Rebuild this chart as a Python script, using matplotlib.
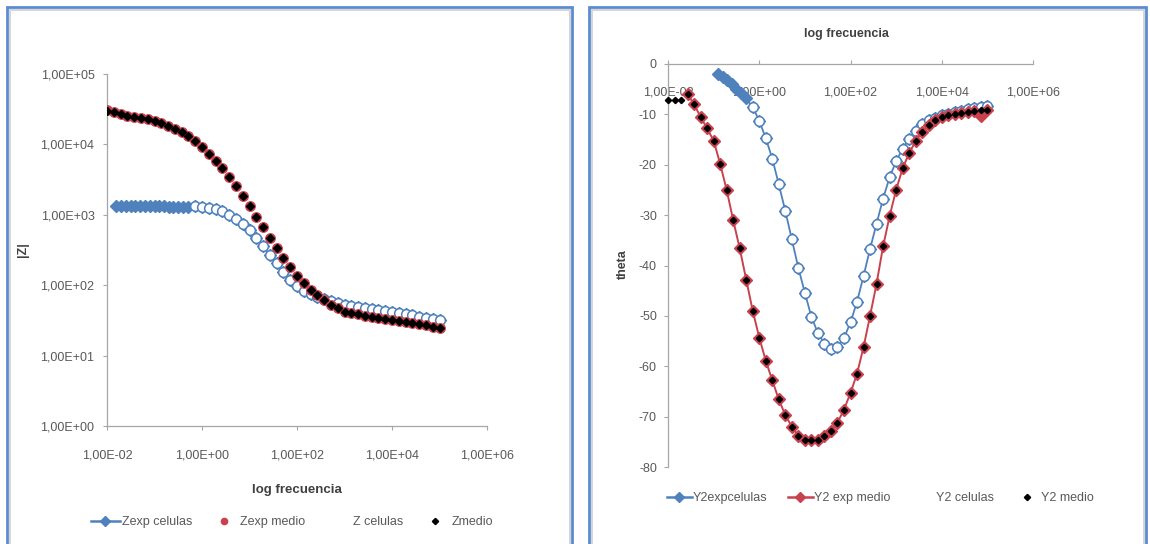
import matplotlib
matplotlib.use("Agg")
import matplotlib.pyplot as plt
from matplotlib.lines import Line2D
from matplotlib.patches import Rectangle
from matplotlib.ticker import FixedLocator, FuncFormatter, NullLocator

plt.rcParams["font.family"] = ["Liberation Sans", "DejaVu Sans"]
plt.rcParams["axes.unicode_minus"] = False

# shared frequency grid (Hz), 7 points per decade
freq = [0.01, 0.01389, 0.01931, 0.02683, 0.03728, 0.05179, 0.07197,
        0.1, 0.1389, 0.1931, 0.2683, 0.3728, 0.5179, 0.7197,
        1, 1.389, 1.931, 2.683, 3.728, 5.179, 7.197,
        10, 13.89, 19.31, 26.83, 37.28, 51.79, 71.97,
        100, 138.9, 193.1, 268.3, 372.8, 517.9, 719.7,
        1000, 1389, 1931, 2683, 3728, 5179, 7197,
        10000, 13890, 19310, 26830, 37280, 51790, 71970, 100000]

# |Z| - medium
z_medio = [29900, 28840, 26900, 25700, 24550, 23710, 22900, 21630, 19950, 18410,
           16600, 14790, 13030, 11120, 9120, 7410, 5890, 4570, 3430, 2570,
           1860, 1349, 944, 661, 468, 339, 245, 184, 135, 106,
           85.1, 72.4, 61.7, 52.5, 46.8, 42.2, 39.8, 38.5, 36.7, 35.5,
           34.3, 33.1, 32.0, 30.9, 29.9, 28.8, 27.9, 26.9, 25.7, 24.5]
z_exp_medio = [30500, 28840, 26900, 25700, 24550, 23710, 22900, 21630, 19950, 18410,
               16600, 14790, 13030, 11120, 9120, 7410, 5890, 4570, 3430, 2570,
               1860, 1349, 944, 661, 468, 339, 245, 184, 135, 106,
               85.1, 72.4, 61.7, 52.5, 46.8, 42.2, 39.8, 38.5, 36.7, 35.5,
               34.3, 33.1, 32.0, 30.9, 29.9, 28.8, 27.9, 26.9, 25.7, 24.5]

# |Z| - cells: model from freq[13:], measurement at low frequency
z_celulas = [1318, 1303, 1259, 1202, 1122, 1000, 871, 741, 603, 468,
             355, 269, 204, 155, 120, 97.7, 83.2, 74.1, 67.6, 63.1,
             59.6, 55.6, 52.5, 50.7, 49.0, 47.3, 45.7, 44.2, 42.7, 41.2,
             39.8, 38.5, 37.2, 35.9, 34.7, 33.5, 32.4]
z_exp_cel_freq = [0.0158, 0.02, 0.0251, 0.0316, 0.0398, 0.0501, 0.0631, 0.0794,
                  0.1, 0.126, 0.158, 0.2, 0.251, 0.316, 0.398, 0.501]
z_exp_cel = [1330, 1325, 1325, 1320, 1320, 1320, 1318, 1318,
             1315, 1315, 1312, 1310, 1305, 1300, 1295, 1290]

# phase angle - medium (measurement starts at freq[3])
y2_medio = [-7.2, -7.2, -7.2,
            -6.0, -8.0, -10.5, -12.8, -15.2, -19.8, -25.0, -31.0, -36.6, -42.8,
            -49.0, -54.3, -58.9, -62.8, -66.6, -69.7, -72.0, -73.8, -74.6, -74.7,
            -74.6, -73.9, -72.8, -71.2, -68.6, -65.3, -61.5, -56.2, -50.0, -43.6,
            -36.2, -30.2, -25.0, -20.7, -17.7, -15.3, -13.4, -12.1, -11.2, -10.6,
            -10.2, -9.9, -9.7, -9.5, -9.3, -9.1, -9.2]
y2_exp_medio = [-6.0, -8.0, -10.5, -12.8, -15.2, -19.8, -25.0, -31.0, -36.6, -42.8,
                -49.0, -54.3, -58.9, -62.8, -66.6, -69.7, -72.0, -73.8, -74.6, -74.7,
                -74.6, -73.9, -72.8, -71.2, -68.6, -65.3, -61.5, -56.2, -50.0, -43.6,
                -36.2, -30.2, -25.0, -20.7, -17.7, -15.3, -13.4, -12.1, -11.2, -10.6,
                -10.2, -9.9, -9.7, -9.5, -9.3, -10.3, -9.2]

# phase angle - cells: model from freq[13:], measurement at low frequency
y2_celulas = [-8.5, -11.3, -14.7, -18.8, -23.9, -29.2, -34.8, -40.5, -45.4, -50.2,
              -53.4, -55.5, -56.5, -56.1, -54.4, -51.3, -47.2, -42.1, -36.7, -31.7,
              -26.7, -22.5, -19.3, -16.8, -14.9, -13.3, -11.9, -11.2, -10.7, -10.2,
              -9.9, -9.6, -9.3, -9.0, -8.8, -8.5, -8.3]
y2_exp_cel_freq = [0.126, 0.158, 0.2, 0.251, 0.316, 0.398, 0.501]
y2_exp_cel = [-1.9, -2.5, -3.2, -4.0, -4.9, -5.8, -6.8]

x_ticks = [1e-2, 1e0, 1e2, 1e4, 1e6]
z_ticks = [1e0, 1e1, 1e2, 1e3, 1e4, 1e5]
theta_ticks = [0, -10, -20, -30, -40, -50, -60, -70, -80]

BLUE = "#4F81BD"
RED = "#C8424E"
AXIS = "#A6A6A6"
TXT = "#595959"
TITLE = "#404040"
W, H = 1150, 544


def excel_sci(v, _pos=None):
    return f"{v:.2E}".replace(".", ",")


def fig_box(x, y, w, h):
    # pixel box (top-left origin) -> figure fraction rect
    return [x / W, 1 - (y + h) / H, w / W, h / H]


def style_axes(ax):
    for side in ("top", "right"):
        ax.spines[side].set_visible(False)
    for side in ("left", "bottom"):
        ax.spines[side].set_color(AXIS)
        ax.spines[side].set_linewidth(0.9)
    ax.set_facecolor("none")
    ax.xaxis.set_major_locator(FixedLocator(x_ticks))
    ax.xaxis.set_major_formatter(FuncFormatter(excel_sci))
    ax.xaxis.set_minor_locator(NullLocator())
    ax.tick_params(which="both", color=AXIS, labelcolor=TXT, labelsize=9, length=3, width=0.8)


fig = plt.figure(figsize=(W / 100, H / 100), dpi=100)

# panel frames
for x0, x1 in ((7, 572), (589, 1146)):
    fig.patches.append(Rectangle(((x0 + 2.5) / W, -0.1), (x1 - x0 - 5) / W, 1 - 9.5 / H + 0.1,
                                 transform=fig.transFigure, fill=False,
                                 edgecolor="#D4D4D4", lw=1.4, zorder=0))
    fig.patches.append(Rectangle((x0 / W, -0.1), (x1 - x0) / W, 1 - 7 / H + 0.1,
                                 transform=fig.transFigure, fill=False,
                                 edgecolor="#5B8CD2", lw=2.0, zorder=1))

# ---- |Z| vs frequency ----
ax1 = fig.add_axes(fig_box(107, 74, 380, 352))
ax1.set_xscale("log")
ax1.set_yscale("log")
ax1.set_xlim(1e-2, 1e6)
ax1.set_ylim(1, 1e5)
style_axes(ax1)
ax1.yaxis.set_major_locator(FixedLocator(z_ticks))
ax1.yaxis.set_major_formatter(FuncFormatter(excel_sci))
ax1.yaxis.set_minor_locator(NullLocator())
ax1.tick_params(axis="x", pad=14)
ax1.tick_params(axis="y", pad=6)

ax1.plot(z_exp_cel_freq + freq[13:], z_exp_cel + z_celulas, color=BLUE, lw=1.3,
         marker="D", ms=6.2, mfc=BLUE, mec=BLUE, zorder=2)
ax1.plot(freq[13:], z_celulas, ls="none", marker="o", ms=7, mfc="white",
         mec=BLUE, mew=1.1, zorder=3)
ax1.plot(freq, z_exp_medio, ls="none", marker="o", ms=6.8, mfc=RED, mec=RED, zorder=4)
ax1.plot(freq, z_medio, ls="none", marker="D", ms=3.6, mfc="black", mec="black", zorder=5)

fig.text(297 / W, 1 - 490 / H, "log frecuencia", ha="center", va="center",
         fontsize=9.5, fontweight="bold", color=TITLE)
fig.text(23 / W, 1 - 250 / H, "|Z|", ha="center", va="center", rotation=90,
         fontsize=9, fontweight="bold", color=TITLE)

h_left = [
    Line2D([], [], color=BLUE, lw=1.8, marker="D", ms=5, mfc=BLUE, mec=BLUE),
    Line2D([], [], ls="none", marker="o", ms=4.5, mfc=RED, mec=RED),
    Line2D([], [], ls="none", marker="o", ms=4.5, mfc="white", mec="white"),
    Line2D([], [], ls="none", marker="D", ms=3.2, mfc="black", mec="black"),
]
fig.legend(h_left, ["Zexp celulas", "Zexp medio", "Z celulas", "Zmedio"],
           loc="center", bbox_to_anchor=(292 / W, 1 - 522 / H), ncol=4, frameon=False,
           fontsize=9, labelcolor=TXT, handlelength=2.3, handletextpad=0.15,
           columnspacing=1.4)

# ---- phase angle vs frequency ----
ax2 = fig.add_axes(fig_box(668, 64, 365, 403))
ax2.set_xscale("log")
ax2.set_xlim(1e-2, 1e6)
ax2.set_ylim(-80, 0)
style_axes(ax2)
ax2.spines["bottom"].set_position(("data", 0))
ax2.yaxis.set_major_locator(FixedLocator(theta_ticks))
ax2.tick_params(axis="x", direction="in", pad=16)
ax2.tick_params(axis="y", pad=5)

ax2.plot(y2_exp_cel_freq + freq[13:], y2_exp_cel + y2_celulas, color=BLUE, lw=1.3,
         marker="D", ms=6, mfc=BLUE, mec=BLUE, zorder=2, clip_on=False)
ax2.plot(freq[13:], y2_celulas, ls="none", marker="o", ms=7, mfc="white",
         mec=BLUE, mew=1.1, zorder=3, clip_on=False)
ax2.plot(freq[3:], y2_exp_medio, color=RED, lw=1.4, marker="D", ms=6.2,
         mfc=RED, mec=RED, zorder=4, clip_on=False)
ax2.plot(freq, y2_medio, ls="none", marker="D", ms=3.2, mfc="black", mec="black",
         zorder=5, clip_on=False)

fig.text(846 / W, 1 - 34 / H, "log frecuencia", ha="center", va="center",
         fontsize=9, fontweight="bold", color=TITLE)
fig.text(623 / W, 1 - 264 / H, "theta", ha="center", va="center", rotation=90,
         fontsize=9, fontweight="bold", color=TITLE)

h_right = [
    Line2D([], [], color=BLUE, lw=1.8, marker="D", ms=5, mfc=BLUE, mec=BLUE),
    Line2D([], [], color=RED, lw=1.8, marker="D", ms=5, mfc=RED, mec=RED),
    Line2D([], [], ls="none", marker="o", ms=4.5, mfc="white", mec="white"),
    Line2D([], [], ls="none", marker="D", ms=3.2, mfc="black", mec="black"),
]
fig.legend(h_right, ["Y2expcelulas", "Y2 exp medio", "Y2 celulas", "Y2 medio"],
           loc="center", bbox_to_anchor=(880 / W, 1 - 498 / H), ncol=4, frameon=False,
           fontsize=9, labelcolor=TXT, handlelength=2.0, handletextpad=0.1,
           columnspacing=1.6)

fig.savefig("out.png", dpi=100)
